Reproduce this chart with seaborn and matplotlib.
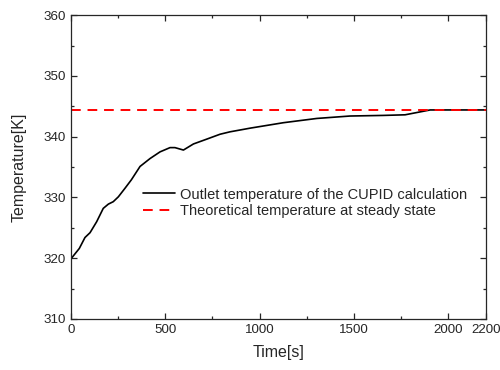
import numpy as np
import pandas as pd
import matplotlib
matplotlib.use('Agg')
import matplotlib.pyplot as plt
from matplotlib.ticker import MultipleLocator
import seaborn as sns

# outlet temperature
time_s = [0, 44, 74, 101, 136, 171, 198, 224, 251, 286, 320, 366, 419, 472, 525,
          551, 596, 649, 720, 790, 843, 914, 949, 1126, 1303, 1479, 1656, 1771,
          1904, 2200]
temp_k = [319.9, 321.6, 323.4, 324.2, 326.0, 328.2, 328.9, 329.3, 330.1, 331.5,
          332.9, 335.1, 336.4, 337.5, 338.2, 338.2, 337.8, 338.8, 339.6, 340.4,
          340.8, 341.2, 341.4, 342.3, 343.0, 343.4, 343.5, 343.6, 344.4, 344.4]

# theoretical steady state value
steady_t = 344.4
steady_time = [0, 2200]

x_ticks = [0, 500, 1000, 1500, 2000, 2200]

sns.set_style('ticks')
plt.rcParams['font.family'] = ['Liberation Sans', 'DejaVu Sans']
plt.rcParams['font.size'] = 10

df = pd.DataFrame({'time': time_s, 'T': temp_k})
df_ss = pd.DataFrame({'time': steady_time, 'T': [steady_t] * len(steady_time)})

fig = plt.figure(figsize=(5, 3.7), dpi=100)
ax = fig.add_axes([0.142, 0.138, 0.83, 0.821])

sns.lineplot(data=df, x='time', y='T', ax=ax, color='black', lw=1.2,
             label='Outlet temperature of the CUPID calculation')
sns.lineplot(data=df_ss, x='time', y='T', ax=ax, color='#ff0000', lw=1.4,
             linestyle=(0, (5, 3.5)),
             label='Theoretical temperature at steady state')

ax.set_xlim(0, 2200)
ax.set_ylim(310, 360)
ax.set_xticks(x_ticks)
ax.xaxis.set_minor_locator(MultipleLocator(250))
ax.yaxis.set_minor_locator(MultipleLocator(5))
ax.tick_params(which='both', direction='in', top=True, right=True, labelsize=9.6, pad=4)
ax.tick_params(which='major', length=4, width=0.9)
ax.tick_params(which='minor', length=2.5, width=0.9)
for s in ax.spines.values():
    s.set_linewidth(0.9)

ax.set_xlabel('Time[s]', fontsize=11.5, labelpad=6)
ax.set_ylabel('Temperature[K]', fontsize=11.5, labelpad=12)

ax.legend(loc='center left', bbox_to_anchor=(0.16, 0.383), frameon=False,
          fontsize=10.5, handlelength=2.2, handletextpad=0.35, labelspacing=0.15,
          borderaxespad=0)

fig.savefig('out.png', dpi=100)
